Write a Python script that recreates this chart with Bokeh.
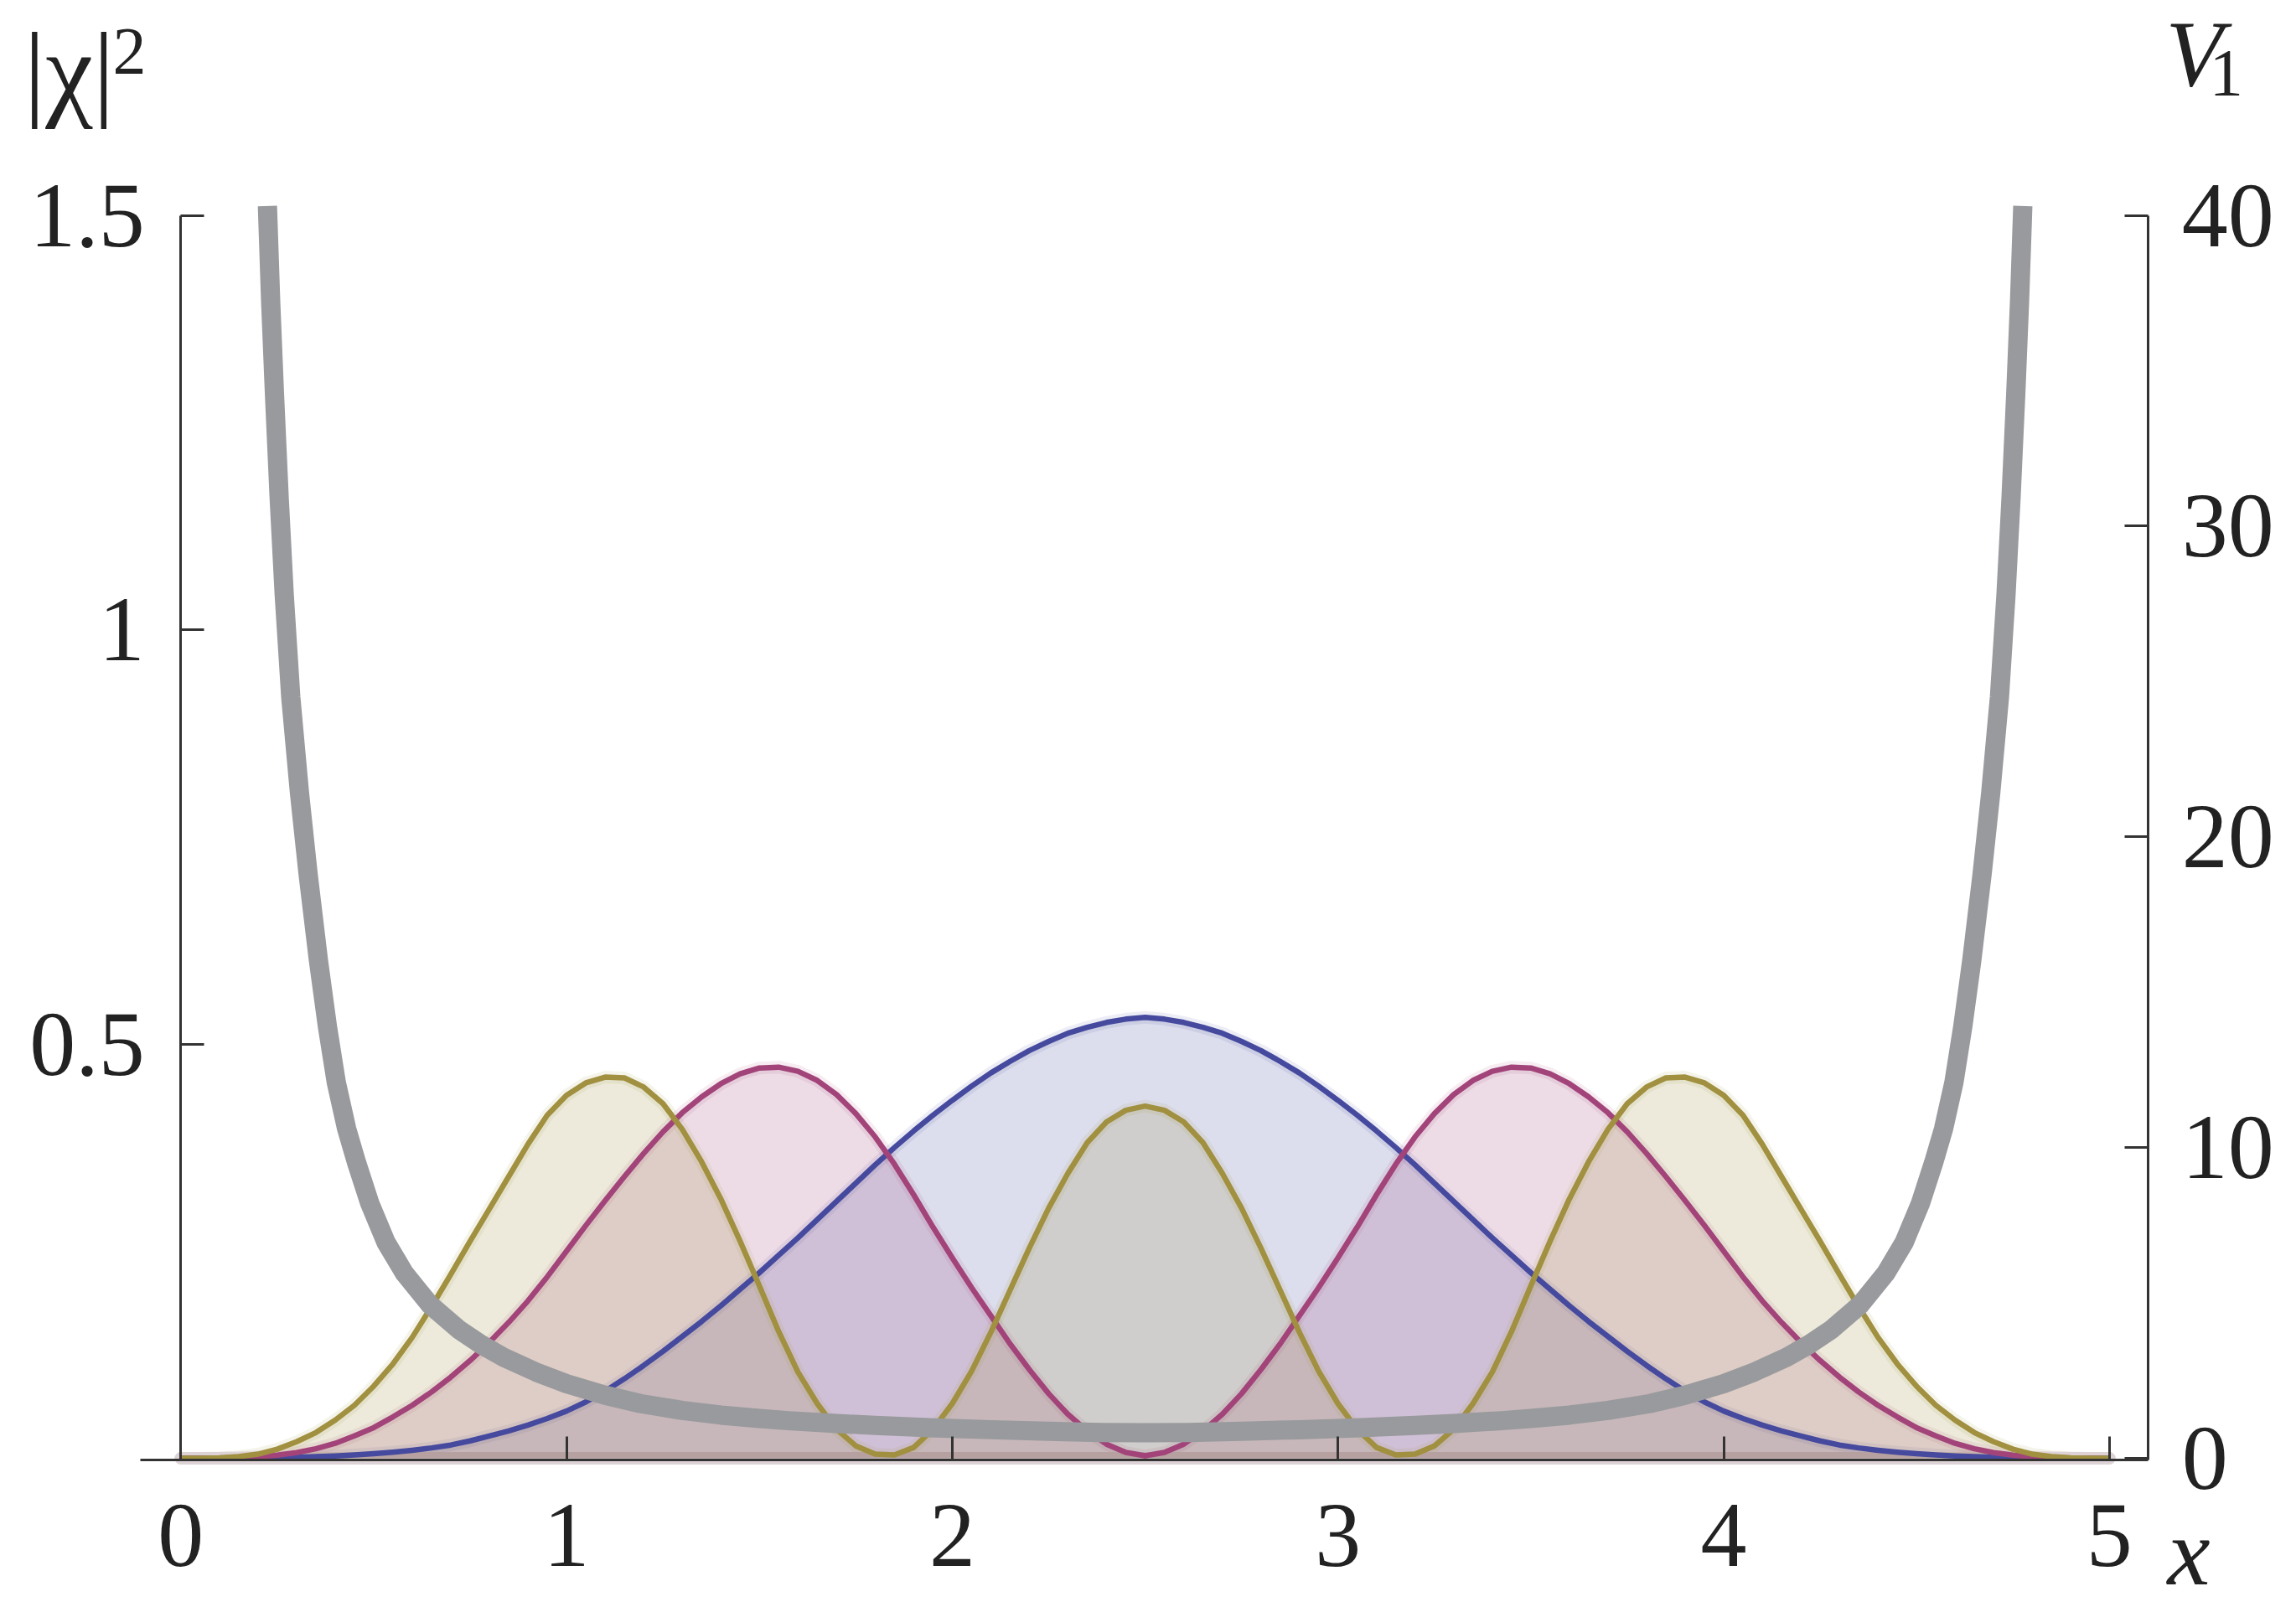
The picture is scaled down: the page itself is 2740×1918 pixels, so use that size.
from bokeh.plotting import figure
from bokeh.models import Range1d, LinearAxis, FixedTicker, Label
from bokeh.embed import file_html
from bokeh.resources import INLINE

# ---------------- data ----------------
# sample positions for the probability densities
x_grid = [round(0.05 * i, 2) for i in range(101)]

# |chi_0|^2 (blue)
chi0 = [0, 0, 0.0001, 0.0002, 0.0004, 0.0007, 0.0012, 0.0019, 0.0028, 0.004,
        0.0055, 0.0074, 0.0097, 0.0125, 0.016, 0.021, 0.027, 0.033, 0.040, 0.048,
        0.057, 0.068, 0.081, 0.096, 0.112, 0.129, 0.147, 0.165, 0.184, 0.204,
        0.224, 0.245, 0.266, 0.288, 0.310, 0.332, 0.354, 0.375, 0.395, 0.414,
        0.432, 0.449, 0.465, 0.479, 0.492, 0.503, 0.513, 0.520, 0.526, 0.530,
        0.532,
        0.530, 0.526, 0.520, 0.513, 0.503, 0.492, 0.479, 0.465, 0.449, 0.432,
        0.414, 0.395, 0.375, 0.354, 0.332, 0.310, 0.288, 0.266, 0.245, 0.224,
        0.204, 0.184, 0.165, 0.147, 0.129, 0.112, 0.096, 0.081, 0.068, 0.057,
        0.048, 0.040, 0.033, 0.027, 0.021, 0.016, 0.0125, 0.0097, 0.0074, 0.0055,
        0.004, 0.0028, 0.0019, 0.0012, 0.0007, 0.0004, 0.0002, 0.0001, 0, 0]

# |chi_1|^2 (magenta)
chi1 = [0, 0, 0.0002, 0.0007, 0.0018, 0.0037, 0.0068, 0.0115, 0.018, 0.027,
        0.037, 0.050, 0.064, 0.080, 0.098, 0.118, 0.140, 0.164, 0.190, 0.219,
        0.250, 0.281, 0.311, 0.340, 0.368, 0.394, 0.417, 0.436, 0.452, 0.464,
        0.471, 0.472, 0.467, 0.456, 0.439, 0.416, 0.388, 0.355, 0.318, 0.279,
        0.242, 0.206, 0.172, 0.138, 0.107, 0.078, 0.053, 0.033, 0.017, 0.007,
        0.003,
        0.007, 0.017, 0.033, 0.053, 0.078, 0.107, 0.138, 0.172, 0.206, 0.242,
        0.279, 0.318, 0.355, 0.388, 0.416, 0.439, 0.456, 0.467, 0.472, 0.471,
        0.464, 0.452, 0.436, 0.417, 0.394, 0.368, 0.340, 0.311, 0.281, 0.250,
        0.219, 0.190, 0.164, 0.140, 0.118, 0.098, 0.080, 0.064, 0.050, 0.037,
        0.027, 0.018, 0.0115, 0.0068, 0.0037, 0.0018, 0.0007, 0.0002, 0, 0]

# |chi_2|^2 (olive)
chi2 = [0, 0, 0.0005, 0.002, 0.005, 0.011, 0.020, 0.031, 0.046, 0.064,
        0.087, 0.114, 0.146, 0.183, 0.222, 0.262, 0.301, 0.340, 0.379, 0.414,
        0.438, 0.453, 0.460, 0.459, 0.448, 0.428, 0.397, 0.358, 0.313, 0.262,
        0.208, 0.153, 0.104, 0.066, 0.035, 0.015, 0.005, 0.004, 0.013, 0.035,
        0.066, 0.105, 0.152, 0.203, 0.254, 0.302, 0.344, 0.381, 0.406, 0.420,
        0.425,
        0.420, 0.406, 0.381, 0.344, 0.302, 0.254, 0.203, 0.152, 0.105, 0.066,
        0.035, 0.013, 0.004, 0.005, 0.015, 0.035, 0.066, 0.104, 0.153, 0.208,
        0.262, 0.313, 0.358, 0.397, 0.428, 0.448, 0.459, 0.460, 0.453, 0.438,
        0.414, 0.379, 0.340, 0.301, 0.262, 0.222, 0.183, 0.146, 0.114, 0.087,
        0.064, 0.046, 0.031, 0.020, 0.011, 0.005, 0.002, 0.0005, 0, 0]

# potential V1 (grey, right axis)
v_x = [0.2245, 0.233, 0.2426, 0.255, 0.268, 0.285, 0.3077, 0.33, 0.357, 0.38,
       0.403, 0.43, 0.456, 0.49, 0.532, 0.58, 0.646, 0.72, 0.78, 0.837,
       0.92, 1.0, 1.1, 1.192, 1.3, 1.4, 1.5, 1.575, 1.7, 1.8,
       1.955, 2.1, 2.25, 2.387, 2.5,
       2.613, 2.75, 2.9, 3.045, 3.2, 3.3, 3.425, 3.5, 3.6, 3.7,
       3.808, 3.9, 4.0, 4.08, 4.163, 4.22, 4.28, 4.354, 4.42, 4.468,
       4.51, 4.544, 4.57, 4.597, 4.62, 4.643, 4.67, 4.6923, 4.715, 4.732,
       4.745, 4.7574, 4.767, 4.7755]
v_vals = [40.3, 37.2, 34.3, 30.9, 27.8, 24.5, 21.4, 18.8, 16.0, 13.9,
          12.1, 10.6, 9.5, 8.2, 6.95, 5.95, 4.94, 4.15, 3.65, 3.25,
          2.78, 2.40, 2.03, 1.76, 1.54, 1.39, 1.28, 1.21, 1.12, 1.06,
          0.98, 0.92, 0.87, 0.83, 0.82,
          0.83, 0.87, 0.92, 0.98, 1.06, 1.12, 1.21, 1.28, 1.39, 1.54,
          1.76, 2.03, 2.40, 2.78, 3.25, 3.65, 4.15, 4.94, 5.95, 6.95,
          8.2, 9.5, 10.6, 12.1, 13.9, 16.0, 18.8, 21.4, 24.5, 27.8,
          30.9, 34.3, 37.2, 40.3]

x_ticks = [0, 1, 2, 3, 4, 5]
left_ticks = [0.5, 1, 1.5]
left_labels = ["0.5", "1", "1.5"]
right_ticks = [0, 10, 20, 30, 40]

# ---------------- geometry / styling ----------------
C_BLUE = "#464A9E"
C_MAG = "#A2447A"
C_OLIVE = "#A0903F"
C_GREY = "#999A9D"
AX = "#333333"
TXT = "#222222"
FONT = "Liberation Serif"

W, H = 2724, 1918
PX_X = 460.3            # px per x unit
PX_Y = 989.0            # px per |chi|^2 unit
X0_PX = 215.3           # canvas px of x = 0
Y0_PX = 1740.0          # canvas px of y = 0 (from top)
K = 40.0 / 1.5          # V units per |chi|^2 unit

x_start = -X0_PX / PX_X
x_end = (W - X0_PX) / PX_X
y_start = -(H - Y0_PX) / PX_Y
y_end = Y0_PX / PX_Y

AXIS_Y = -2 / PX_Y      # x-axis line a hair below y = 0
X_LEFT = -0.105         # x-axis line starts left of the y axis
X_RIGHT = 5.101         # right axis position

p = figure(width=W, height=H,
           x_range=Range1d(x_start, x_end), y_range=Range1d(y_start, y_end),
           output_backend="svg", toolbar_location=None,
           min_border_left=0, min_border_right=0,
           min_border_top=0, min_border_bottom=0)
p.extra_y_ranges = {"V": Range1d(y_start * K, y_end * K)}
p.outline_line_color = None
p.grid.visible = False
p.background_fill_color = "white"
p.border_fill_color = "white"


def style(ax, standoff):
    ax.axis_line_color = AX
    ax.axis_line_width = 3
    ax.major_tick_line_color = AX
    ax.major_tick_line_width = 3
    ax.major_tick_in = 28
    ax.major_tick_out = 0
    ax.minor_tick_line_color = None
    ax.major_label_text_font = FONT
    ax.major_label_text_font_size = "110px"
    ax.major_label_text_color = TXT
    ax.major_label_standoff = standoff


xa = p.xaxis[0]
style(xa, 53)
xa.ticker = FixedTicker(ticks=x_ticks)
xa.bounds = (X_LEFT, X_RIGHT)
xa.fixed_location = AXIS_Y

ya = p.yaxis[0]
style(ya, 43)
ya.ticker = FixedTicker(ticks=left_ticks)
ya.major_label_overrides = {t: s for t, s in zip(left_ticks, left_labels)}
ya.bounds = (AXIS_Y, 1.5)
ya.fixed_location = 0

ra = LinearAxis(y_range_name="V", ticker=FixedTicker(ticks=right_ticks))
style(ra, 40)
ra.bounds = (AXIS_Y * K, 40)
ra.fixed_location = X_RIGHT
p.add_layout(ra, "right")

# fills with a soft halo around their edges
for vals, col in ((chi0, C_BLUE), (chi1, C_MAG), (chi2, C_OLIVE)):
    p.patch(x_grid, vals, fill_color=col, fill_alpha=0.19,
            line_color=col, line_alpha=0.10, line_width=15, line_join="round")

for vals, col in ((chi0, C_BLUE), (chi1, C_MAG), (chi2, C_OLIVE)):
    p.line(x_grid, vals, line_color=col, line_width=6.5, line_join="round")

p.line(v_x, v_vals, y_range_name="V", line_color=C_GREY, line_width=23,
       line_join="round")


def add_text(text, fx, baseline, size, italic=False):
    """place a text by page pixel of its left edge and its baseline"""
    anchor = baseline - 0.34 * size      # Label anchor sits above the baseline
    x = (fx - X0_PX) / PX_X
    y = (Y0_PX - anchor) / PX_Y
    p.add_layout(Label(x=x, y=y, text=text, text_font=FONT,
                       text_font_style="italic" if italic else "normal",
                       text_font_size=f"{size}px", text_color=TXT,
                       text_baseline="alphabetic", text_align="left"))


add_text("|χ|", 28, 127, 128)
add_text("2", 134, 88, 80)
add_text("V", 2584, 102, 112, italic=True)
add_text("1", 2636, 115, 81)
add_text("x", 2586, 1891, 115, italic=True)

open("out.html", "w").write(file_html(p, INLINE))
